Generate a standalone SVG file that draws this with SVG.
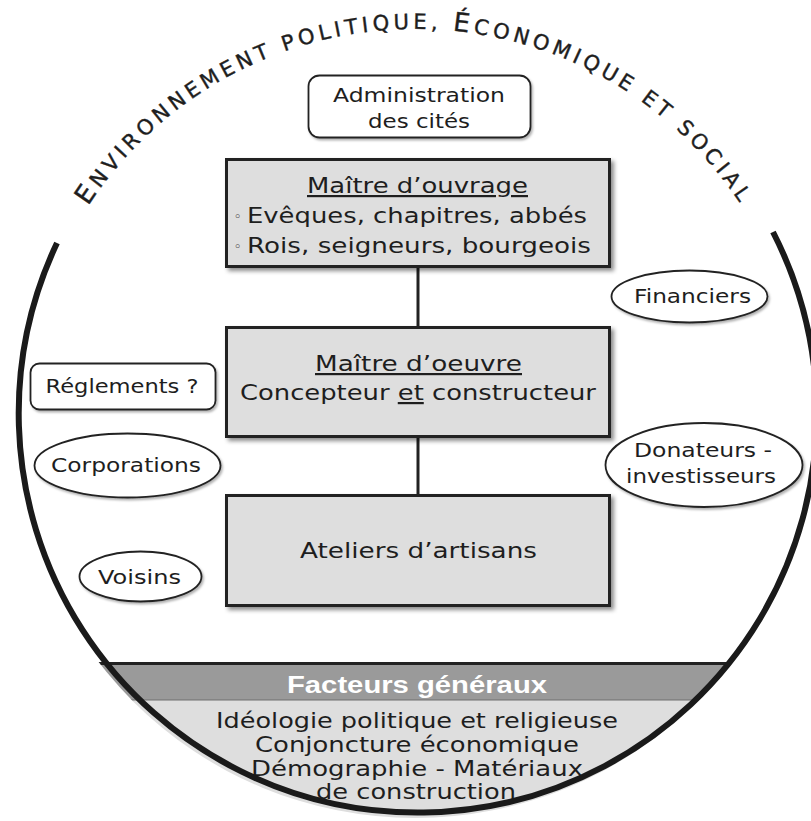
<svg xmlns="http://www.w3.org/2000/svg" width="811" height="821" viewBox="0 0 811 821">
  <style>
    .t { font-family: "DejaVu Sans", "Noto Sans", sans-serif; fill: #1e1e1e; }
    .box { fill: #dedede; stroke: #222; stroke-width: 3; }
    .soft { fill: #fff; stroke: #222; stroke-width: 1.8; }
    .link { stroke: #222; stroke-width: 3; fill: none; }
    .ul { text-decoration: underline; }
  </style>
  <defs>
    <filter id="shadow" x="-10%" y="-10%" width="125%" height="130%">
      <feDropShadow dx="3" dy="3" stdDeviation="2" flood-color="#000" flood-opacity="0.45"/>
    </filter>
    <filter id="shadowLight" x="-10%" y="-10%" width="125%" height="130%">
      <feDropShadow dx="1.5" dy="2" stdDeviation="1.2" flood-color="#000" flood-opacity="0.3"/>
    </filter>
    <clipPath id="inside">
      <circle cx="415" cy="419" r="399"/>
    </clipPath>
    <path id="titleArc" d="M 61.5 254.2 A 390 390 0 0 1 768.5 254.2"/>
  </defs>

  <rect width="811" height="821" fill="#fff"/>

  <!-- general factors band at the foot of the circle -->
  <g id="facteurs" clip-path="url(#inside)">
    <rect x="0" y="664" width="811" height="36" fill="#9a9a9a"/>
    <rect x="0" y="700" width="811" height="130" fill="#dedede"/>
    <line x1="0" y1="700" x2="811" y2="700" stroke="#6e6e6e" stroke-width="1"/>
    <line x1="0" y1="663.5" x2="811" y2="663.5" stroke="#222" stroke-width="3"/>
    <text x="417" y="693" text-anchor="middle" font-weight="bold" font-size="23" style="fill:#fff;font-family:'Liberation Sans',Arial,sans-serif" textLength="260" lengthAdjust="spacingAndGlyphs">Facteurs généraux</text>
    <text class="t" x="417" y="728" text-anchor="middle" font-size="22" textLength="402" lengthAdjust="spacingAndGlyphs">Idéologie politique et religieuse</text>
    <text class="t" x="417" y="752" text-anchor="middle" font-size="22" textLength="324" lengthAdjust="spacingAndGlyphs">Conjoncture économique</text>
    <text class="t" x="417" y="776" text-anchor="middle" font-size="22" textLength="332" lengthAdjust="spacingAndGlyphs">Démographie - Matériaux</text>
    <text class="t" x="416" y="799" text-anchor="middle" font-size="22" textLength="200" lengthAdjust="spacingAndGlyphs">de construction</text>
  </g>

  <!-- surrounding environment: open circle with its title along the top -->
  <g id="environnement">
    <path d="M 57 243 A 399 399 0 1 0 773 232" fill="none" stroke="#1a1a1a" stroke-width="6"/>
    <text class="t" font-size="21" letter-spacing="4.2" stroke="#1e1e1e" stroke-width="0.4">
      <textPath href="#titleArc" startOffset="50%" text-anchor="middle"><tspan font-size="26">E</tspan>NVIRONNEMENT POLITIQUE, <tspan font-size="26">É</tspan>CONOMIQUE ET SOCIAL</textPath>
    </text>
  </g>

  <!-- connectors -->
  <g id="connectors">
    <line class="link" x1="418" y1="268" x2="418" y2="326"/>
    <line class="link" x1="418" y1="438" x2="418" y2="494"/>
  </g>

  <g id="administration">
    <rect class="soft" x="308.5" y="75.5" width="222" height="62" rx="11" filter="url(#shadowLight)"/>
    <text class="t" x="419" y="102" text-anchor="middle" font-size="20" textLength="172" lengthAdjust="spacingAndGlyphs">Administration</text>
    <text class="t" x="419" y="128" text-anchor="middle" font-size="20" textLength="102" lengthAdjust="spacingAndGlyphs">des cités</text>
  </g>

  <g id="maitre-ouvrage">
    <rect class="box" x="226.5" y="159.5" width="383" height="107" filter="url(#shadow)"/>
    <text class="t ul" x="417.5" y="193" text-anchor="middle" font-size="22" textLength="221" lengthAdjust="spacingAndGlyphs">Maître d’ouvrage</text>
    <text class="t" x="237.5" y="221" text-anchor="middle" font-size="13">◦</text>
    <text class="t" x="247" y="223" font-size="22" textLength="340" lengthAdjust="spacingAndGlyphs">Evêques, chapitres, abbés</text>
    <text class="t" x="237.5" y="251" text-anchor="middle" font-size="13">◦</text>
    <text class="t" x="247" y="253" font-size="22" textLength="344" lengthAdjust="spacingAndGlyphs">Rois, seigneurs, bourgeois</text>
  </g>

  <g id="maitre-oeuvre">
    <rect class="box" x="226.5" y="327.5" width="383" height="109" filter="url(#shadow)"/>
    <text class="t ul" x="418.5" y="371" text-anchor="middle" font-size="22" textLength="207" lengthAdjust="spacingAndGlyphs">Maître d’oeuvre</text>
    <text class="t" x="418" y="400" text-anchor="middle" font-size="22" textLength="356" lengthAdjust="spacingAndGlyphs">Concepteur <tspan class="ul">et</tspan> constructeur</text>
  </g>

  <g id="ateliers">
    <rect class="box" x="226.5" y="495.5" width="383" height="110" filter="url(#shadow)"/>
    <text class="t" x="418.5" y="558" text-anchor="middle" font-size="22" textLength="237" lengthAdjust="spacingAndGlyphs">Ateliers d’artisans</text>
  </g>

  <g id="reglements">
    <rect class="soft" x="30.5" y="363.5" width="185" height="46" rx="9" filter="url(#shadowLight)"/>
    <text class="t" x="122" y="393" text-anchor="middle" font-size="20" textLength="153" lengthAdjust="spacingAndGlyphs">Réglements ?</text>
  </g>

  <g id="corporations">
    <ellipse class="soft" cx="127.5" cy="465.5" rx="93" ry="32" filter="url(#shadowLight)"/>
    <text class="t" x="126" y="472" text-anchor="middle" font-size="20" textLength="150" lengthAdjust="spacingAndGlyphs">Corporations</text>
  </g>

  <g id="voisins">
    <ellipse class="soft" cx="140.5" cy="576.5" rx="61" ry="25" filter="url(#shadowLight)"/>
    <text class="t" x="139.5" y="584" text-anchor="middle" font-size="20" textLength="83" lengthAdjust="spacingAndGlyphs">Voisins</text>
  </g>

  <g id="financiers">
    <ellipse class="soft" cx="689.5" cy="296.5" rx="78" ry="26" filter="url(#shadowLight)"/>
    <text class="t" x="692.5" y="303" text-anchor="middle" font-size="20" textLength="117" lengthAdjust="spacingAndGlyphs">Financiers</text>
  </g>

  <g id="donateurs">
    <ellipse class="soft" cx="704" cy="465" rx="98.5" ry="42" filter="url(#shadowLight)"/>
    <text class="t" x="703" y="457" text-anchor="middle" font-size="20" textLength="138" lengthAdjust="spacingAndGlyphs">Donateurs -</text>
    <text class="t" x="701" y="483" text-anchor="middle" font-size="20" textLength="150" lengthAdjust="spacingAndGlyphs">investisseurs</text>
  </g>
</svg>
